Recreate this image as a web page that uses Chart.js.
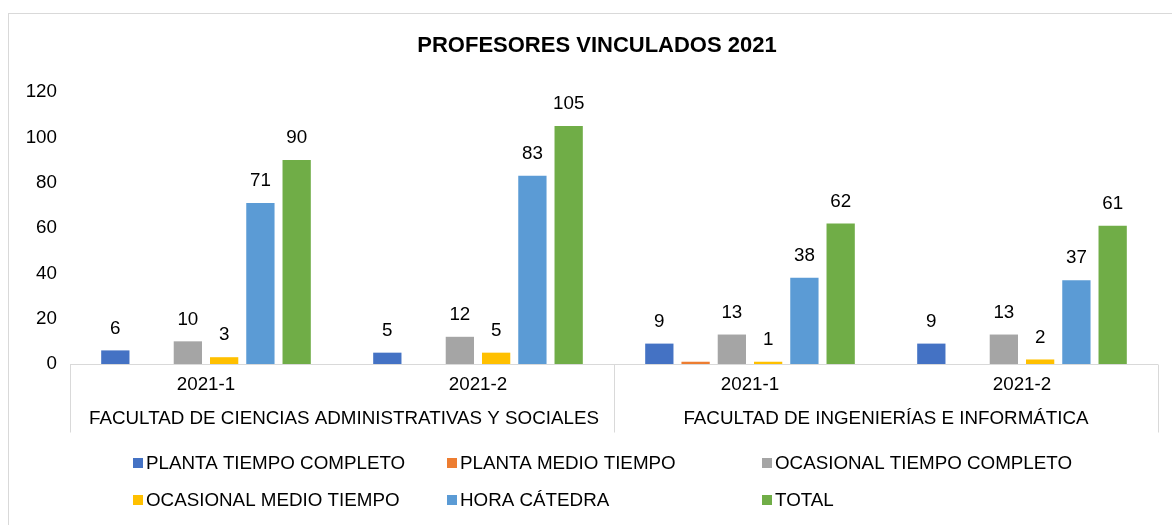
<!DOCTYPE html>
<html>
<head>
<meta charset="utf-8">
<script src="https://cdn.jsdelivr.net/npm/chart.js@4.4.1/dist/chart.umd.min.js"></script>
<style>
html,body{margin:0;padding:0;background:#fff;overflow:hidden;}
canvas{display:block;}
</style>
</head>
<body>
<canvas id="c" width="1172" height="525"></canvas>
<script>
const chartTitle = 'PROFESORES VINCULADOS 2021';
const periods = ['2021-1', '2021-2', '2021-1', '2021-2'];
const faculties = ['FACULTAD DE CIENCIAS ADMINISTRATIVAS Y SOCIALES', 'FACULTAD DE INGENIERÍAS E INFORMÁTICA'];
const seriesNames = ['PLANTA TIEMPO COMPLETO', 'PLANTA MEDIO TIEMPO', 'OCASIONAL TIEMPO COMPLETO', 'OCASIONAL MEDIO TIEMPO', 'HORA CÁTEDRA', 'TOTAL'];
const plantaTiempoCompleto = [6, 5, 9, 9];
const plantaMedioTiempo = [0, 0, 1, 0];
const ocasionalTiempoCompleto = [10, 12, 13, 13];
const ocasionalMedioTiempo = [3, 5, 1, 2];
const horaCatedra = [71, 83, 38, 37];
const total = [90, 105, 62, 61];
const yTicks = [0, 20, 40, 60, 80, 100, 120];

const colors = ['#4472C4', '#ED7D31', '#A5A5A5', '#FFC000', '#5B9BD5', '#70AD47'];
const seriesData = [plantaTiempoCompleto, plantaMedioTiempo, ocasionalTiempoCompleto, ocasionalMedioTiempo, horaCatedra, total];
const showLabels = [true, false, true, true, true, true];

const FONT = "'Liberation Sans', Arial, sans-serif";
const FS = 18.8;
const TEXT = '#000000';
const AXIS = '#D9D9D9';

const decorPlugin = {
  id: 'decor',
  beforeDraw(chart) {
    const ctx = chart.ctx;
    ctx.save();
    ctx.fillStyle = '#fff';
    ctx.fillRect(0, 0, chart.width, chart.height);
    ctx.strokeStyle = AXIS;
    ctx.lineWidth = 1;
    ctx.strokeRect(8.5, 13.5, 1400, 800);
    ctx.restore();
  },
  afterDraw(chart) {
    const ctx = chart.ctx;
    const a = chart.chartArea;
    const x = chart.scales.x;
    ctx.save();
    // title
    ctx.fillStyle = TEXT;
    ctx.font = 'bold 22px ' + FONT;
    ctx.textAlign = 'center';
    ctx.textBaseline = 'middle';
    ctx.fillText(chartTitle, 597, 46);
    // axis line + multi-level separators
    ctx.strokeStyle = AXIS;
    ctx.lineWidth = 1;
    const yb = Math.round(a.bottom) + 0.5;
    ctx.beginPath();
    ctx.moveTo(a.left, yb);
    ctx.lineTo(a.right, yb);
    const mid = (x.getPixelForValue(1) + x.getPixelForValue(2)) / 2;
    const seps = [a.left, mid, a.right];
    seps.forEach(sx => {
      const px = Math.round(sx) + 0.5;
      ctx.moveTo(px, yb);
      ctx.lineTo(px, yb + 68);
    });
    ctx.stroke();
    // group labels
    ctx.fillStyle = TEXT;
    ctx.font = FS + 'px ' + FONT;
    ctx.fillText(faculties[0], (seps[0] + seps[1]) / 2 + 2, a.bottom + 55);
    ctx.fillText(faculties[1], (seps[1] + seps[2]) / 2, a.bottom + 55);
    // legend
    const colX = [133, 447, 762];
    const rowY = [463, 500];
    ctx.textAlign = 'left';
    seriesNames.forEach((name, i) => {
      const cx = colX[i % 3];
      const cy = rowY[Math.floor(i / 3)];
      ctx.fillStyle = colors[i];
      ctx.fillRect(cx, cy - 5, 10, 10);
      ctx.fillStyle = TEXT;
      ctx.fillText(name, cx + 13, cy + 1);
    });
    ctx.restore();
  },
  afterDatasetsDraw(chart) {
    const ctx = chart.ctx;
    ctx.save();
    ctx.fillStyle = TEXT;
    ctx.font = FS + 'px ' + FONT;
    ctx.textAlign = 'center';
    ctx.textBaseline = 'middle';
    chart.data.datasets.forEach((ds, i) => {
      if (!showLabels[i]) return;
      const meta = chart.getDatasetMeta(i);
      meta.data.forEach((el, j) => {
        const v = ds.data[j];
        if (!v) return;
        ctx.fillText(String(v), el.x, el.y - 22);
      });
    });
    ctx.restore();
  }
};

new Chart(document.getElementById('c'), {
  type: 'bar',
  data: {
    labels: periods,
    datasets: seriesNames.map((n, i) => ({
      label: n,
      data: seriesData[i],
      backgroundColor: colors[i],
      borderWidth: 0,
      categoryPercentage: 0.8,
      barPercentage: 0.78
    }))
  },
  options: {
    responsive: false,
    animation: false,
    devicePixelRatio: 1,
    layout: { padding: { top: 92, left: 8, right: 14, bottom: 129 } },
    plugins: {
      legend: { display: false },
      title: { display: false },
      tooltip: { enabled: false }
    },
    scales: {
      x: {
        grid: { display: false, drawTicks: false },
        border: { display: false },
        ticks: { color: TEXT, font: { family: FONT, size: FS }, padding: 10, maxRotation: 0 },
        afterFit(s) { s.height = 32; }
      },
      y: {
        min: 0, max: 120,
        afterBuildTicks(s) { s.ticks = yTicks.map(v => ({ value: v })); },
        grid: { display: false, drawTicks: false },
        border: { display: false },
        ticks: { color: TEXT, font: { family: FONT, size: FS }, padding: 13 },
        afterFit(s) { s.width = 62; }
      }
    }
  },
  plugins: [decorPlugin]
});
</script>
</body>
</html>
